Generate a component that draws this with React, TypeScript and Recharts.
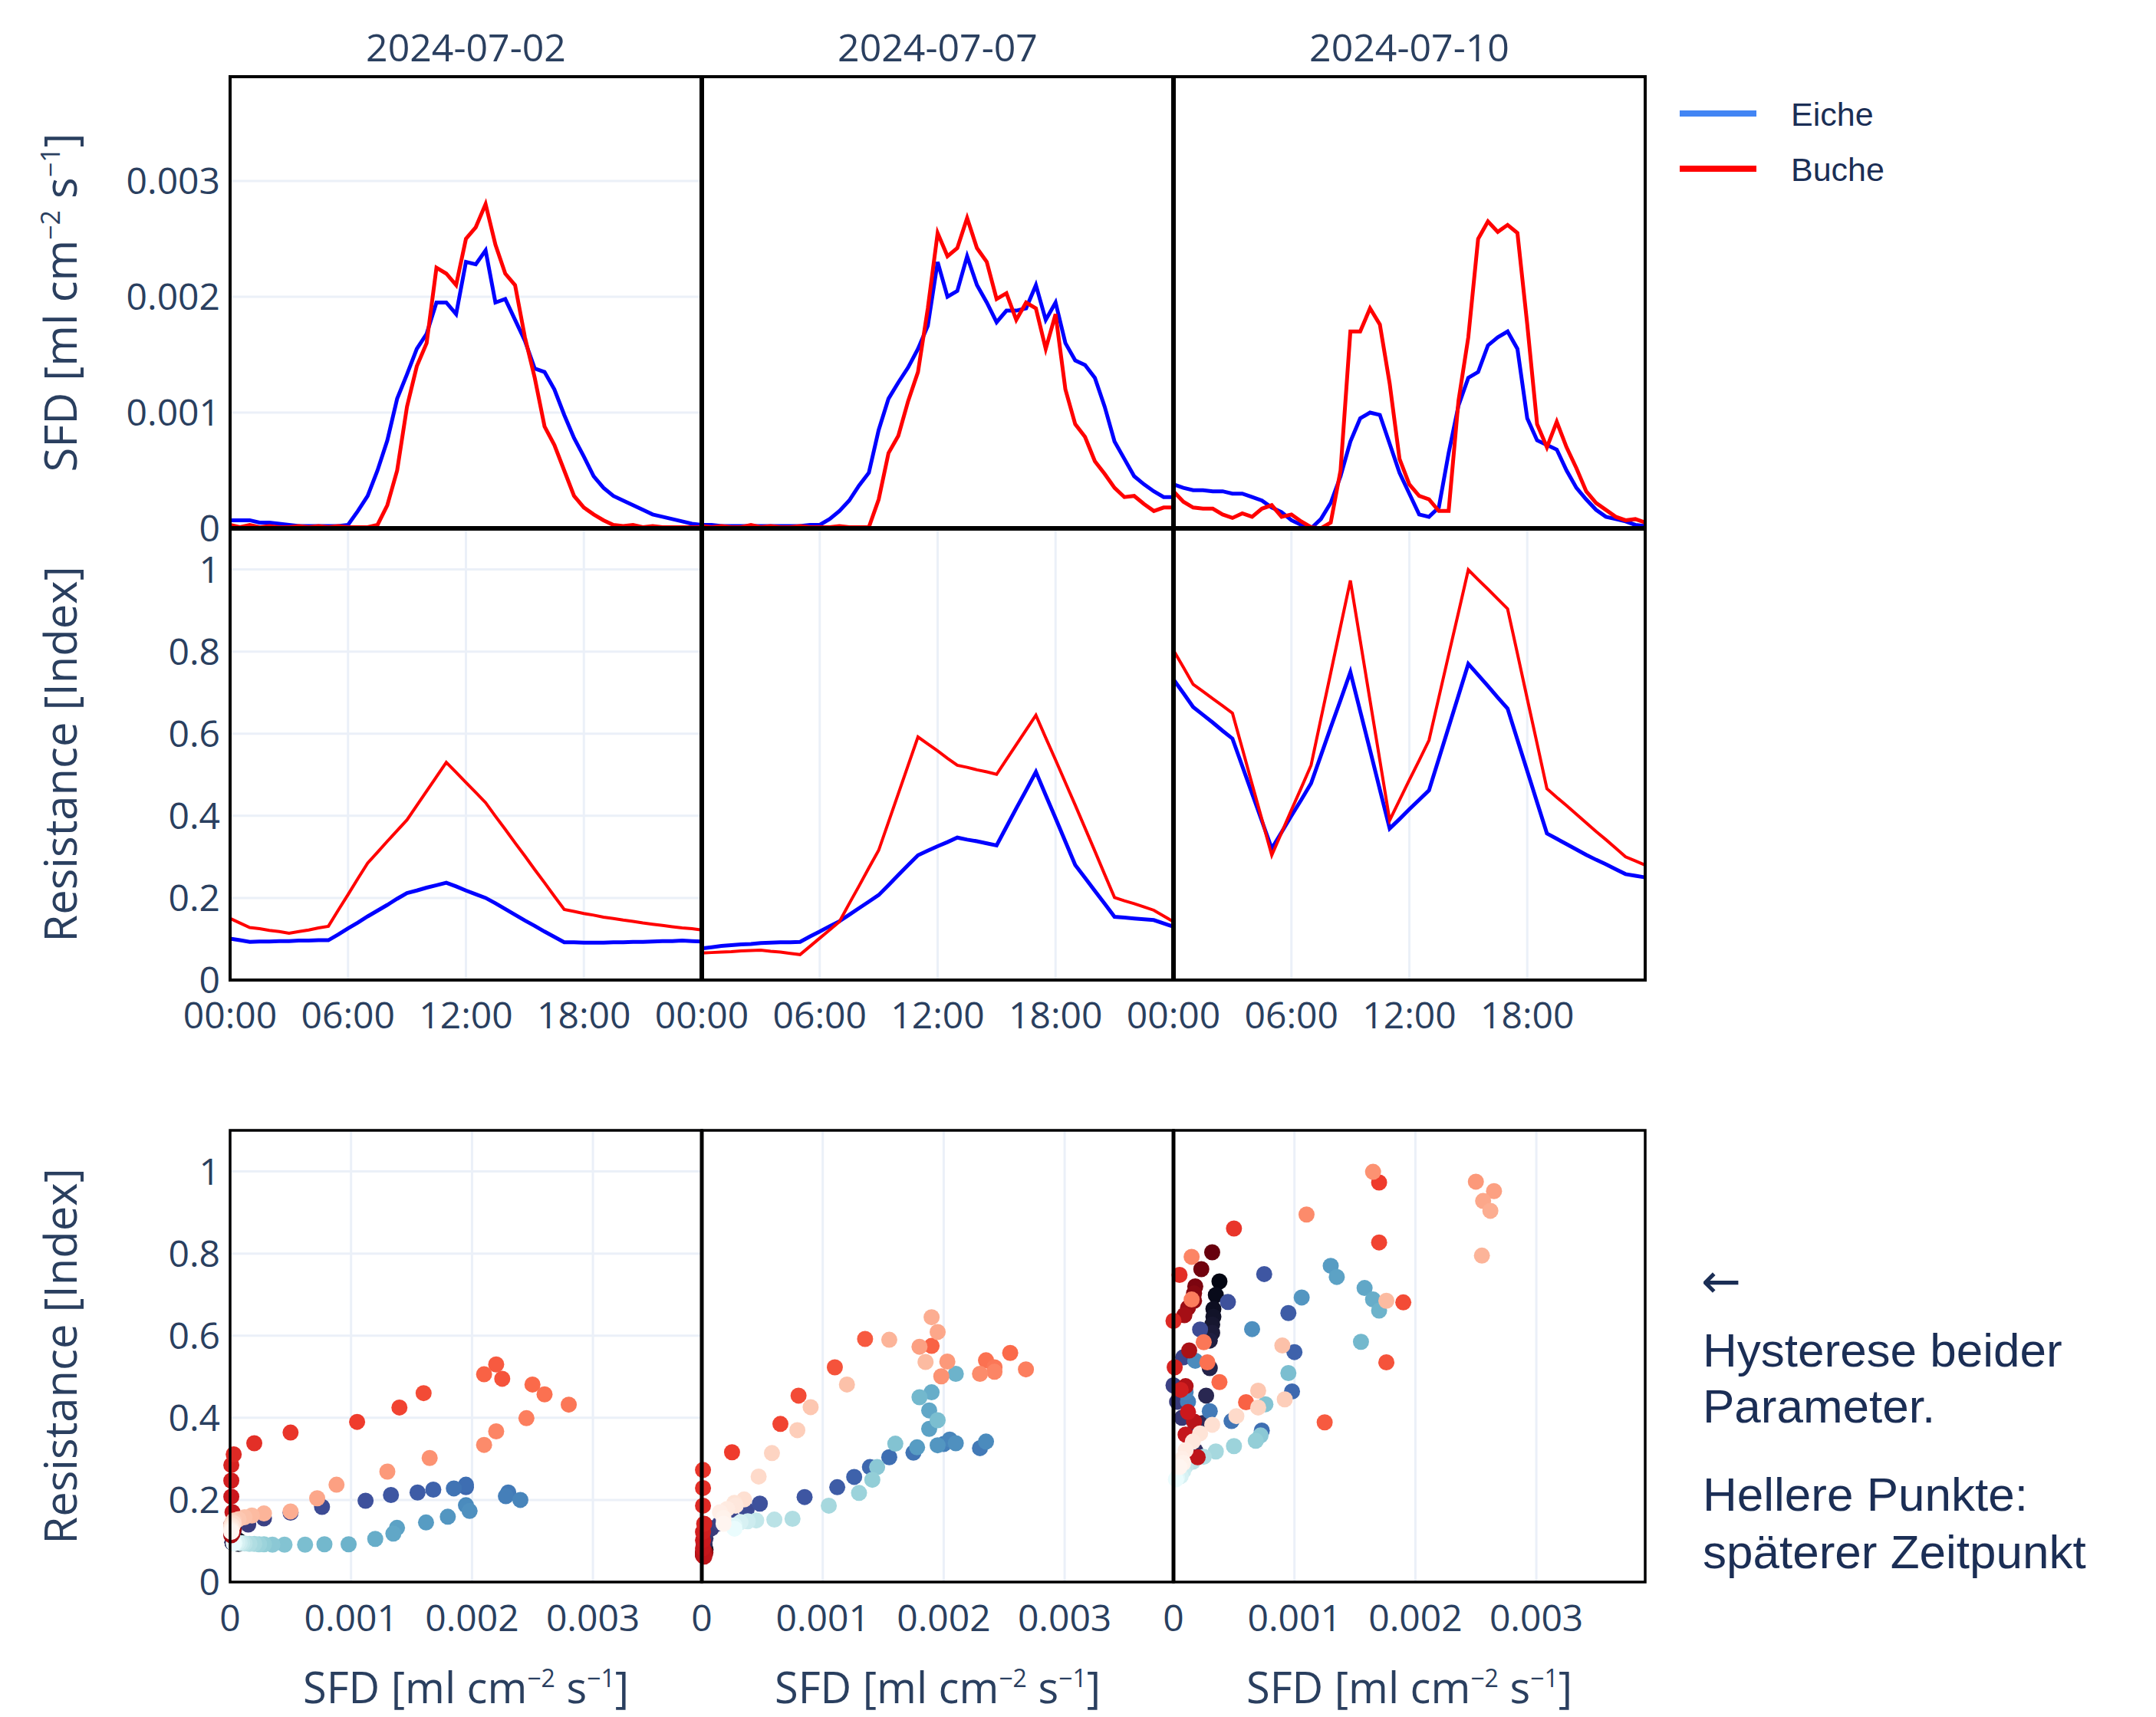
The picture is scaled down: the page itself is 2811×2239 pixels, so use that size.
import React from "react";
import { CartesianGrid, Line, LineChart, Scatter, ScatterChart, XAxis, YAxis } from "recharts";

const days = ["2024-07-02", "2024-07-07", "2024-07-10"];

// half-hour grid, hours since midnight
const hours = [0, 0.5, 1, 1.5, 2, 2.5, 3, 3.5, 4, 4.5, 5, 5.5, 6, 6.5, 7, 7.5, 8, 8.5, 9, 9.5, 10, 10.5, 11, 11.5, 12, 12.5, 13, 13.5, 14, 14.5, 15, 15.5, 16, 16.5, 17, 17.5, 18, 18.5, 19, 19.5, 20, 20.5, 21, 21.5, 22, 22.5, 23, 23.5, 24];

const timeTicks = [0, 6, 12, 18];
const sfdTicks = [0, 1, 2, 3]; // 10^-3 ml cm^-2 s^-1
const resTicks = [0, 0.2, 0.4, 0.6, 0.8, 1];

// SFD in 10^-3 ml cm^-2 s^-1
const sfdEiche0702 = [0.07, 0.07, 0.07, 0.05, 0.05, 0.04, 0.03, 0.02, 0.02, 0.02, 0.02, 0.02, 0.03, 0.15, 0.28, 0.5, 0.76, 1.12, 1.33, 1.55, 1.68, 1.95, 1.95, 1.85, 2.3, 2.28, 2.4, 1.95, 1.98, 1.8, 1.62, 1.38, 1.35, 1.2, 0.98, 0.78, 0.62, 0.45, 0.35, 0.28, 0.24, 0.2, 0.16, 0.12, 0.1, 0.08, 0.06, 0.04, 0.03];
const sfdBuche0702 = [0.03, 0.01, 0.03, 0.01, 0.02, 0.01, 0.01, 0.02, 0.01, 0.02, 0.01, 0.02, 0.01, 0.01, 0.01, 0.03, 0.2, 0.5, 1.05, 1.4, 1.6, 2.25, 2.2, 2.1, 2.5, 2.6, 2.8, 2.45, 2.2, 2.1, 1.65, 1.3, 0.88, 0.72, 0.5, 0.28, 0.18, 0.12, 0.07, 0.03, 0.02, 0.03, 0.01, 0.02, 0.01, 0.01, 0.01, 0.01, 0.01];
const sfdEiche0707 = [0.03, 0.03, 0.02, 0.02, 0.02, 0.02, 0.02, 0.02, 0.02, 0.02, 0.02, 0.03, 0.03, 0.08, 0.15, 0.24, 0.37, 0.48, 0.85, 1.12, 1.26, 1.39, 1.55, 1.75, 2.3, 2.0, 2.05, 2.35, 2.1, 1.95, 1.78, 1.88, 1.88, 1.9, 2.1, 1.8, 1.95, 1.6, 1.45, 1.41, 1.3, 1.05, 0.75, 0.6, 0.45, 0.38, 0.32, 0.27, 0.27];
const sfdBuche0707 = [0.02, 0.01, 0.02, 0.01, 0.01, 0.03, 0.01, 0.02, 0.01, 0.01, 0.02, 0.01, 0.01, 0.01, 0.02, 0.01, 0.01, 0.01, 0.25, 0.65, 0.8, 1.1, 1.35, 1.9, 2.55, 2.35, 2.42, 2.68, 2.42, 2.3, 1.98, 2.03, 1.8, 1.95, 1.9, 1.55, 1.85, 1.2, 0.9, 0.79, 0.58, 0.47, 0.35, 0.27, 0.28, 0.21, 0.15, 0.18, 0.18];
const sfdEiche0710 = [0.38, 0.35, 0.33, 0.33, 0.32, 0.32, 0.3, 0.3, 0.27, 0.24, 0.18, 0.14, 0.07, 0.03, 0.0, 0.08, 0.22, 0.45, 0.75, 0.95, 1.0, 0.98, 0.73, 0.48, 0.3, 0.12, 0.1, 0.18, 0.65, 1.06, 1.3, 1.35, 1.58, 1.65, 1.7, 1.55, 0.95, 0.76, 0.72, 0.68, 0.5, 0.35, 0.25, 0.16, 0.1, 0.08, 0.06, 0.03, 0.02];
const sfdBuche0710 = [0.32, 0.23, 0.18, 0.17, 0.17, 0.12, 0.09, 0.13, 0.1, 0.17, 0.2, 0.1, 0.12, 0.06, 0.01, 0.0, 0.05, 0.5, 1.7, 1.7, 1.9, 1.76, 1.25, 0.6, 0.38, 0.28, 0.25, 0.15, 0.15, 1.1, 1.65, 2.5, 2.65, 2.56, 2.62, 2.55, 1.76, 0.9, 0.7, 0.92, 0.7, 0.52, 0.32, 0.22, 0.16, 0.1, 0.07, 0.08, 0.05];

// resistance index
const resEiche0702 = [0.101, 0.097, 0.093, 0.094, 0.094, 0.095, 0.095, 0.096, 0.096, 0.097, 0.097, 0.111, 0.126, 0.14, 0.155, 0.169, 0.183, 0.198, 0.212, 0.218, 0.225, 0.231, 0.237, 0.228, 0.218, 0.209, 0.2, 0.187, 0.173, 0.159, 0.145, 0.132, 0.118, 0.105, 0.092, 0.092, 0.091, 0.091, 0.091, 0.092, 0.092, 0.093, 0.093, 0.094, 0.095, 0.095, 0.096, 0.095, 0.094];
const resBuche0702 = [0.15, 0.139, 0.128, 0.125, 0.121, 0.118, 0.114, 0.118, 0.122, 0.127, 0.131, 0.17, 0.208, 0.247, 0.285, 0.311, 0.338, 0.364, 0.39, 0.425, 0.46, 0.495, 0.53, 0.506, 0.481, 0.457, 0.432, 0.399, 0.367, 0.334, 0.302, 0.269, 0.237, 0.204, 0.172, 0.167, 0.162, 0.158, 0.153, 0.15, 0.146, 0.143, 0.139, 0.136, 0.133, 0.13, 0.127, 0.125, 0.122];
const resEiche0707 = [0.077, 0.08, 0.083, 0.085, 0.087, 0.088, 0.09, 0.091, 0.092, 0.092, 0.093, 0.106, 0.118, 0.131, 0.143, 0.159, 0.175, 0.191, 0.207, 0.231, 0.256, 0.28, 0.304, 0.315, 0.326, 0.336, 0.347, 0.342, 0.338, 0.333, 0.328, 0.373, 0.418, 0.462, 0.507, 0.45, 0.394, 0.337, 0.28, 0.249, 0.217, 0.186, 0.154, 0.152, 0.15, 0.148, 0.146, 0.138, 0.13];
const resBuche0707 = [0.066, 0.067, 0.068, 0.069, 0.071, 0.072, 0.073, 0.07, 0.068, 0.065, 0.062, 0.082, 0.102, 0.122, 0.142, 0.186, 0.229, 0.273, 0.316, 0.385, 0.454, 0.523, 0.592, 0.575, 0.558, 0.54, 0.523, 0.518, 0.512, 0.507, 0.501, 0.537, 0.573, 0.609, 0.645, 0.59, 0.536, 0.481, 0.426, 0.37, 0.314, 0.257, 0.201, 0.193, 0.186, 0.178, 0.17, 0.156, 0.142];
const resEiche0710 = [0.732, 0.699, 0.665, 0.646, 0.627, 0.607, 0.588, 0.521, 0.454, 0.387, 0.32, 0.36, 0.4, 0.439, 0.479, 0.547, 0.615, 0.682, 0.75, 0.655, 0.56, 0.464, 0.369, 0.392, 0.416, 0.439, 0.462, 0.539, 0.616, 0.693, 0.77, 0.743, 0.716, 0.688, 0.661, 0.585, 0.509, 0.433, 0.357, 0.344, 0.331, 0.318, 0.305, 0.293, 0.282, 0.27, 0.258, 0.254, 0.25];
const resBuche0710 = [0.803, 0.762, 0.72, 0.703, 0.685, 0.668, 0.65, 0.564, 0.477, 0.391, 0.304, 0.359, 0.414, 0.468, 0.523, 0.636, 0.748, 0.861, 0.973, 0.827, 0.681, 0.535, 0.389, 0.438, 0.487, 0.535, 0.584, 0.688, 0.792, 0.895, 0.999, 0.975, 0.952, 0.928, 0.904, 0.795, 0.685, 0.576, 0.466, 0.445, 0.425, 0.404, 0.383, 0.362, 0.342, 0.321, 0.3, 0.29, 0.28];

const sfdEiche = [sfdEiche0702, sfdEiche0707, sfdEiche0710];
const sfdBuche = [sfdBuche0702, sfdBuche0707, sfdBuche0710];
const resEiche = [resEiche0702, resEiche0707, resEiche0710];
const resBuche = [resBuche0702, resBuche0707, resBuche0710];

// colour ramps for time (dark = early, light = late)
const ICE = [[3, 5, 18], [25, 25, 51], [44, 42, 87], [58, 60, 125], [62, 83, 160], [62, 109, 178], [72, 134, 187], [89, 159, 196], [114, 184, 205], [149, 207, 216], [192, 229, 232], [234, 252, 253]];
const REDS_R = [[103, 0, 13], [165, 15, 21], [203, 24, 29], [239, 59, 44], [251, 106, 74], [252, 146, 114], [252, 187, 161], [254, 224, 210], [255, 245, 240]];

const COL_X = [300, 915, 1530];
const ROW_Y = [100, 689, 1474];
const PANEL_W = 615;
const PANEL_H = 589;
const MT = 20;
const MR = 90;
const GRID = "#ebf0f8";
const INK = "#2a3f5f";
const NAVY = "#1b2e55";
const TICK = { fontSize: 48, fill: INK, fontFamily: "'Open Sans', sans-serif" };

const fmtSfd = (v: number) => (v === 0 ? "0" : (v / 1000).toFixed(3));
const fmtTime = (h: number) => `${String(h).padStart(2, "0")}:00`;

function rampColor(stops: number[][], f: number) {
  const p = f * (stops.length - 1);
  const i = Math.min(Math.floor(p), stops.length - 2);
  const k = p - i;
  const c = stops[i].map((v, j) => Math.round(v + (stops[i + 1][j] - v) * k));
  return `rgb(${c[0]},${c[1]},${c[2]})`;
}

function hysteresis(sfd: number[], res: number[], stops: number[][]) {
  return sfd.map((x, i) => ({ x, y: res[i], color: rampColor(stops, i / (sfd.length - 1)) }));
}

const renderDot = (props: any) => (
  <circle cx={props.cx} cy={props.cy} r={10.5} fill={props.payload?.color ?? props.fill} />
);

function yAxisW(col: number) {
  return col === 0 ? 300 : 90;
}

function SfdPanel({ col }: { col: number }) {
  const yw = yAxisW(col);
  const data = hours.map((t, i) => ({ t, eiche: sfdEiche[col][i], buche: sfdBuche[col][i] }));
  return (
    <div style={{ position: "absolute", left: COL_X[col] - yw, top: ROW_Y[0] - MT }}>
      <LineChart width={yw + PANEL_W + MR} height={MT + PANEL_H + 40} data={data} margin={{ top: MT, right: MR, bottom: 0, left: 0 }}>
        <CartesianGrid stroke={GRID} strokeWidth={3} />
        <XAxis type="number" dataKey="t" domain={[0, 24]} ticks={timeTicks} height={40} tick={false} axisLine={false} tickLine={false} />
        <YAxis type="number" domain={[0, 3.9]} ticks={sfdTicks} width={yw} interval={0} axisLine={false} tickLine={false} tickSize={0} tickMargin={13} tick={col === 0 ? TICK : false} tickFormatter={fmtSfd} />
        <Line type="linear" dataKey="eiche" stroke="#0000ff" strokeWidth={5} dot={false} isAnimationActive={false} />
        <Line type="linear" dataKey="buche" stroke="#ff0000" strokeWidth={5} dot={false} isAnimationActive={false} />
      </LineChart>
    </div>
  );
}

function ResPanel({ col }: { col: number }) {
  const yw = yAxisW(col);
  const data = hours.map((t, i) => ({ t, eiche: resEiche[col][i], buche: resBuche[col][i] }));
  return (
    <div style={{ position: "absolute", left: COL_X[col] - yw, top: ROW_Y[1] - MT }}>
      <LineChart width={yw + PANEL_W + MR} height={MT + PANEL_H + 100} data={data} margin={{ top: MT, right: MR, bottom: 0, left: 0 }}>
        <CartesianGrid stroke={GRID} strokeWidth={3} />
        <XAxis type="number" dataKey="t" domain={[0, 24]} ticks={timeTicks} height={100} interval={0} axisLine={false} tickLine={false} tickSize={0} tickMargin={29} tick={TICK} tickFormatter={fmtTime} />
        <YAxis type="number" domain={[0, 1.1]} ticks={resTicks} width={yw} interval={0} axisLine={false} tickLine={false} tickSize={0} tickMargin={13} tick={col === 0 ? TICK : false} />
        <Line type="linear" dataKey="eiche" stroke="#0000ff" strokeWidth={5} dot={false} isAnimationActive={false} />
        <Line type="linear" dataKey="buche" stroke="#ff0000" strokeWidth={4} dot={false} isAnimationActive={false} />
      </LineChart>
    </div>
  );
}

function HystPanel({ col }: { col: number }) {
  const yw = yAxisW(col);
  const eiche = hysteresis(sfdEiche[col], resEiche[col], ICE);
  const buche = hysteresis(sfdBuche[col], resBuche[col], REDS_R);
  return (
    <div style={{ position: "absolute", left: COL_X[col] - yw, top: ROW_Y[2] - MT }}>
      <ScatterChart width={yw + PANEL_W + MR} height={MT + PANEL_H + 100} margin={{ top: MT, right: MR, bottom: 0, left: 0 }}>
        <CartesianGrid stroke={GRID} strokeWidth={3} />
        <XAxis type="number" dataKey="x" domain={[0, 3.9]} ticks={sfdTicks} height={100} interval={0} axisLine={false} tickLine={false} tickSize={0} tickMargin={30} tick={TICK} tickFormatter={fmtSfd} />
        <YAxis type="number" dataKey="y" domain={[0, 1.1]} ticks={resTicks} width={yw} interval={0} axisLine={false} tickLine={false} tickSize={0} tickMargin={13} tick={col === 0 ? TICK : false} />
        <Scatter data={eiche} shape={renderDot} isAnimationActive={false} />
        <Scatter data={buche} shape={renderDot} isAnimationActive={false} />
      </ScatterChart>
    </div>
  );
}

function SfdTitle({ size, sup, shift, ...rest }: any) {
  return (
    <text fontSize={size} fill={INK} fontFamily="'Open Sans', sans-serif" textAnchor="middle" {...rest}>
      SFD [ml cm<tspan dy={-shift} fontSize={sup}>−2</tspan>
      <tspan dy={shift}> s</tspan>
      <tspan dy={-shift} fontSize={sup}>−1</tspan>
      <tspan dy={shift}>]</tspan>
    </text>
  );
}

function Overlay() {
  const topRight = COL_X[2] + PANEL_W;
  return (
    <svg width={2811} height={2239} style={{ position: "absolute", left: 0, top: 0, pointerEvents: "none" }}>
      {/* panel frames */}
      {[0, 1].map((r) =>
        COL_X.map((x, c) => (
          <rect key={`f${r}${c}`} x={x} y={ROW_Y[r]} width={PANEL_W} height={PANEL_H} fill="none" stroke="#000" strokeWidth={4} />
        ))
      )}
      {COL_X.map((x, c) => (
        <rect key={`b${c}`} x={x} y={ROW_Y[2]} width={PANEL_W} height={PANEL_H} fill="none" stroke="#000" strokeWidth={3.5} />
      ))}
      <line x1={COL_X[0]} x2={topRight} y1={ROW_Y[1]} y2={ROW_Y[1]} stroke="#000" strokeWidth={6} />
      {[1, 2].map((c) => (
        <line key={`s${c}`} x1={COL_X[c]} x2={COL_X[c]} y1={ROW_Y[0]} y2={ROW_Y[1] + PANEL_H} stroke="#000" strokeWidth={6} />
      ))}
      {[1, 2].map((c) => (
        <line key={`t${c}`} x1={COL_X[c]} x2={COL_X[c]} y1={ROW_Y[2]} y2={ROW_Y[2] + PANEL_H} stroke="#000" strokeWidth={5} />
      ))}

      {/* subplot titles */}
      {days.map((d, i) => (
        <text key={d} x={COL_X[i] + PANEL_W / 2} y={80} textAnchor="middle" fontSize={50} fill={INK} fontFamily="'Open Sans', sans-serif">
          {d}
        </text>
      ))}

      {/* axis titles */}
      <SfdTitle size={58} sup={34} shift={22} transform={`translate(100, ${ROW_Y[0] + PANEL_H / 2}) rotate(-90)`} />
      {[1, 2].map((r) => (
        <text key={`rt${r}`} transform={`translate(100, ${ROW_Y[r] + PANEL_H / 2}) rotate(-90)`} textAnchor="middle" fontSize={58} fill={INK} fontFamily="'Open Sans', sans-serif">
          Resistance [Index]
        </text>
      ))}
      {COL_X.map((x, c) => (
        <SfdTitle key={`xt${c}`} size={56} sup={32} shift={21} x={x + PANEL_W / 2} y={2221} />
      ))}

      {/* legend */}
      <line x1={2190} x2={2290} y1={148} y2={148} stroke="#4285f4" strokeWidth={8} />
      <line x1={2190} x2={2290} y1={220} y2={220} stroke="#ff0000" strokeWidth={8} />
      <text x={2335} y={164} fontSize={43} fill={NAVY} fontFamily="'Liberation Sans', Arial, sans-serif">Eiche</text>
      <text x={2335} y={236} fontSize={43} fill={NAVY} fontFamily="'Liberation Sans', Arial, sans-serif">Buche</text>

      {/* annotation */}
      <text x={2218} y={1692} fontSize={62} fill={NAVY} fontFamily="'DejaVu Sans', sans-serif">←</text>
      <g fontSize={62} fill={NAVY} fontFamily="'Liberation Sans', Arial, sans-serif">
        <text x={2220} y={1782}>Hysterese beider</text>
        <text x={2220} y={1855}>Parameter.</text>
        <text x={2220} y={1970}>Hellere Punkte:</text>
        <text x={2220} y={2045}>späterer Zeitpunkt</text>
      </g>
    </svg>
  );
}

export default function App() {
  return (
    <div style={{ position: "absolute", left: 0, top: 0, width: 2811, height: 2239, background: "#fff", overflow: "hidden" }}>
      {[0, 1, 2].map((c) => (
        <SfdPanel key={`sfd${c}`} col={c} />
      ))}
      {[0, 1, 2].map((c) => (
        <ResPanel key={`res${c}`} col={c} />
      ))}
      {[0, 1, 2].map((c) => (
        <HystPanel key={`hys${c}`} col={c} />
      ))}
      <Overlay />
    </div>
  );
}
